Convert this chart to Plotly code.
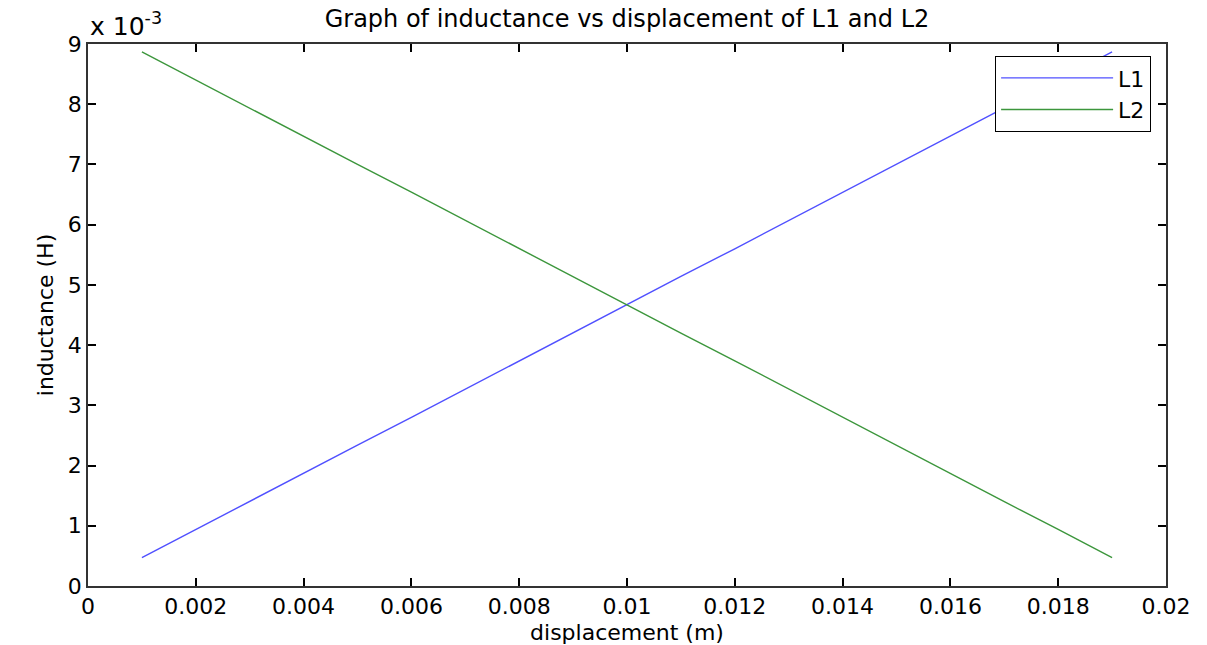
import plotly.graph_objects as go

# displacement samples (m)
displacement = [0.001, 0.002, 0.003, 0.004, 0.005, 0.006, 0.007, 0.008, 0.009, 0.010,
                0.011, 0.012, 0.013, 0.014, 0.015, 0.016, 0.017, 0.018, 0.019]

# inductance of each coil (H)
L1 = [0.47e-3, 0.94e-3, 1.40e-3, 1.87e-3, 2.34e-3, 2.80e-3, 3.27e-3, 3.74e-3, 4.20e-3, 4.67e-3,
      5.14e-3, 5.60e-3, 6.07e-3, 6.54e-3, 7.00e-3, 7.47e-3, 7.94e-3, 8.40e-3, 8.87e-3]
L2 = [8.87e-3, 8.40e-3, 7.94e-3, 7.47e-3, 7.00e-3, 6.54e-3, 6.07e-3, 5.60e-3, 5.14e-3, 4.67e-3,
      4.20e-3, 3.74e-3, 3.27e-3, 2.80e-3, 2.34e-3, 1.87e-3, 1.40e-3, 0.94e-3, 0.47e-3]

x_tickvals = [0, 0.002, 0.004, 0.006, 0.008, 0.010, 0.012, 0.014, 0.016, 0.018, 0.020]
x_ticktext = ["0", "0.002", "0.004", "0.006", "0.008", "0.01", "0.012", "0.014", "0.016", "0.018", "0.02"]
y_tickvals = [0, 1e-3, 2e-3, 3e-3, 4e-3, 5e-3, 6e-3, 7e-3, 8e-3, 9e-3]
y_ticktext = ["0", "1", "2", "3", "4", "5", "6", "7", "8", "9"]

FONT = "DejaVu Sans"

fig = go.Figure()
fig.add_trace(go.Scatter(x=displacement, y=L1, mode="lines", name="L1",
                         line=dict(color="#5050ff", width=1.4)))
fig.add_trace(go.Scatter(x=displacement, y=L2, mode="lines", name="L2",
                         line=dict(color="#3c963c", width=1.4)))

axis_common = dict(
    showgrid=False, zeroline=False, showline=True, linecolor="#333333", linewidth=1.5,
    mirror="ticks", ticks="inside", ticklen=8, tickcolor="#000000", tickwidth=1.5,
    tickfont=dict(family=FONT, size=22, color="#000000"),
)

fig.update_layout(
    width=1207, height=645,
    margin=dict(l=88, r=41, t=44, b=59),
    paper_bgcolor="white", plot_bgcolor="white",
    font=dict(family=FONT, color="#000000"),
    title=dict(text="Graph of inductance vs displacement of L1 and L2",
               x=(88 + 1166) / 2 / 1207, xanchor="center",
               y=1 - 19 / 645, yanchor="middle", yref="container",
               font=dict(family=FONT, size=24, color="#000000")),
    xaxis=dict(range=[0, 0.02], tickvals=x_tickvals, ticktext=x_ticktext,
               title=dict(text="displacement (m)", standoff=8,
                          font=dict(family=FONT, size=22)),
               automargin=False, **axis_common),
    yaxis=dict(range=[0, 0.009], tickvals=y_tickvals, ticktext=y_ticktext,
               title=dict(text="inductance (H)", standoff=8,
                          font=dict(family=FONT, size=22)),
               automargin=False, **axis_common),
    legend=dict(x=0.986, y=0.978, xanchor="right", yanchor="top",
                bgcolor="white", bordercolor="#000000", borderwidth=1.2,
                font=dict(family=FONT, size=22), itemwidth=112,
                tracegroupgap=0),
    showlegend=True,
)

fig.add_annotation(text="x 10<sup>-3</sup>", xref="paper", yref="paper",
                   x=0, y=1, xanchor="left", yanchor="bottom", yshift=1,
                   showarrow=False, font=dict(family=FONT, size=25, color="#000000"))

fig.write_html("out.html")
